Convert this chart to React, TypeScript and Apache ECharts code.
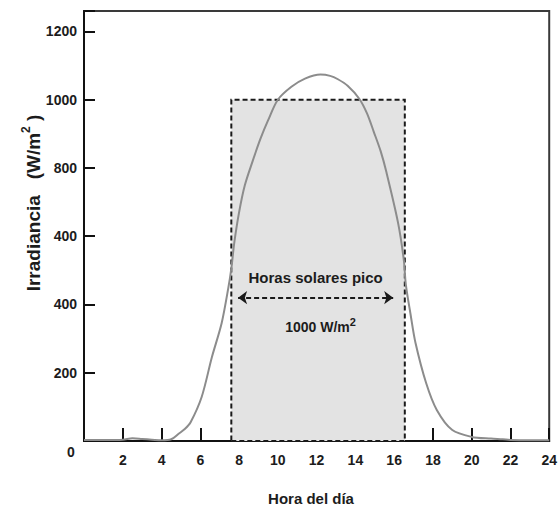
import React, { useEffect, useRef } from 'react';
import * as echarts from 'echarts';

const hours = [0, 1, 2, 2.5, 3, 3.5, 4, 4.5, 4.9, 5.2, 5.5, 6.07, 6.6, 7.1, 7.45, 7.6, 7.75, 8.0, 8.3, 8.7, 9.1, 9.5, 10.0, 10.7, 11.4, 12.2, 12.7, 13.1, 13.6, 14.2, 14.6, 14.95, 15.3, 15.6, 16.2, 16.5, 16.6, 16.85, 17.1, 17.65, 18.2, 19.0, 20.0, 21.0, 21.6, 22.0, 23.0, 24.0];
const irradiance = [3, 3, 4, 8, 6, 4, 2, 5, 22, 35, 55, 129, 246, 345, 450, 505, 580, 670, 750, 820, 885, 940, 1000, 1038, 1062, 1074, 1070, 1060, 1041, 1003, 960, 906, 850, 788, 640, 530, 460, 370, 288, 170, 91, 32, 12, 7, 5, 3, 2, 2];

const xTickValues = [2, 4, 6, 8, 10, 12, 14, 16, 18, 20, 22, 24];
const yTickValues = [0, 200, 400, 600, 800, 1000, 1200];
const yTickLabels = ['', '200', '400', '400', '800', '1000', '1200'];

const peakStart = 7.6;
const peakEnd = 16.55;
const peakLevel = 1000;
const arrowStart = 7.95;
const arrowEnd = 15.95;
const arrowLevel = 420;

const titleX = 'Hora del día';
const annotationTop = 'Horas solares pico';
const annotationTopPos = [11.95, 478];
const annotationBottomPos = [12.2, 334];

const TXT = '#1c1c1c';
const FONT = '"Liberation Sans", Arial, sans-serif';

export default function App() {
  const ref = useRef<HTMLDivElement>(null);
  useEffect(() => {
    if (!ref.current) return;
    const chart = echarts.init(ref.current, null, { renderer: 'svg' });
    const option: any = {
      animation: false,
      textStyle: { fontFamily: FONT },
      grid: {
        left: 84,
        top: 11,
        right: 5,
        bottom: 69,
        show: true,
        borderColor: '#3a3a3a',
        borderWidth: 2,
        backgroundColor: 'transparent',
      },
      xAxis: {
        type: 'value',
        min: 0,
        max: 24,
        interval: 2,
        splitLine: { show: false },
        axisLine: { show: true, lineStyle: { color: '#111', width: 2 } },
        axisTick: { show: true, inside: true, length: 13, lineStyle: { color: '#111', width: 2 } },
        axisLabel: {
          margin: 12,
          fontSize: 14,
          fontWeight: 'bold',
          color: TXT,
          fontFamily: FONT,
          formatter: (v: number) => (xTickValues.indexOf(v) >= 0 ? String(v) : ''),
        },
      },
      yAxis: {
        type: 'value',
        min: 0,
        max: 1260,
        interval: 200,
        splitLine: { show: false },
        axisLine: { show: true, lineStyle: { color: '#111', width: 2 } },
        axisTick: { show: true, inside: true, length: 11, lineStyle: { color: '#111', width: 2 } },
        axisLabel: {
          margin: 7,
          fontSize: 14,
          fontWeight: 'bold',
          color: TXT,
          fontFamily: FONT,
          formatter: (v: number) => {
            const i = yTickValues.indexOf(v);
            return i >= 0 ? yTickLabels[i] : '';
          },
        },
      },
      series: [
        {
          type: 'line',
          data: hours.map((h, i) => [h, irradiance[i]]),
          smooth: 0.3,
          showSymbol: false,
          z: 3,
          lineStyle: { color: '#8c8c8c', width: 2 },
          markArea: {
            silent: true,
            itemStyle: {
              color: '#e3e3e3',
              borderColor: '#1a1a1a',
              borderWidth: 2,
              borderType: [5, 3],
            },
            data: [[{ xAxis: peakStart, yAxis: 0 }, { xAxis: peakEnd, yAxis: peakLevel }]],
          },
          markLine: {
            silent: true,
            symbol: ['arrow', 'arrow'],
            symbolSize: [10, 9],
            label: { show: false },
            lineStyle: { color: '#1a1a1a', type: [5, 3], width: 2 },
            data: [[{ coord: [arrowStart, arrowLevel] }, { coord: [arrowEnd, arrowLevel] }]],
          },
        },
      ],
    };
    chart.setOption(option);

    const p1 = chart.convertToPixel({ gridIndex: 0 }, annotationTopPos) as number[];
    const p2 = chart.convertToPixel({ gridIndex: 0 }, annotationBottomPos) as number[];
    const p0 = chart.convertToPixel({ gridIndex: 0 }, [0, 0]) as number[];

    chart.setOption({
      graphic: [
        {
          type: 'text',
          x: p1[0],
          y: p1[1],
          z: 10,
          style: {
            text: annotationTop,
            align: 'center',
            verticalAlign: 'middle',
            fontSize: 15,
            fontWeight: 'bold',
            fill: TXT,
            fontFamily: FONT,
          },
        },
        {
          type: 'text',
          x: p2[0],
          y: p2[1],
          z: 10,
          style: {
            text: '{b|1000 W/m}{s|2}',
            align: 'center',
            verticalAlign: 'middle',
            fill: TXT,
            fontFamily: FONT,
            rich: {
              b: { fontSize: 14, fontWeight: 'bold', fill: TXT, fontFamily: FONT },
              s: { fontSize: 11, fontWeight: 'bold', fill: TXT, fontFamily: FONT, padding: [0, 0, 11, 0] },
            },
          },
        },
        {
          type: 'text',
          x: p0[0] - 13,
          y: p0[1] + 11,
          style: {
            text: '0',
            align: 'center',
            verticalAlign: 'middle',
            fontSize: 14,
            fontWeight: 'bold',
            fill: TXT,
            fontFamily: FONT,
          },
        },
        {
          type: 'text',
          x: 33,
          y: 203,
          rotation: Math.PI / 2,
          style: {
            text: '{b|Irradiancia   (W/m}{s|2}{b| )}',
            align: 'center',
            verticalAlign: 'middle',
            fill: TXT,
            fontFamily: FONT,
            rich: {
              b: { fontSize: 19, fontWeight: 'bold', fill: TXT, fontFamily: FONT },
              s: { fontSize: 12, fontWeight: 'bold', fill: TXT, fontFamily: FONT, padding: [0, 0, 15, 0] },
            },
          },
        },
        {
          type: 'text',
          x: 311,
          y: 498,
          style: {
            text: titleX,
            align: 'center',
            verticalAlign: 'middle',
            fontSize: 15,
            fontWeight: 'bold',
            fill: TXT,
            fontFamily: FONT,
          },
        },
      ],
    });

    return () => chart.dispose();
  }, []);
  return (
    <div
      ref={ref}
      style={{ position: 'fixed', left: 0, top: 0, width: 560, height: 510, background: '#fff' }}
    />
  );
}
